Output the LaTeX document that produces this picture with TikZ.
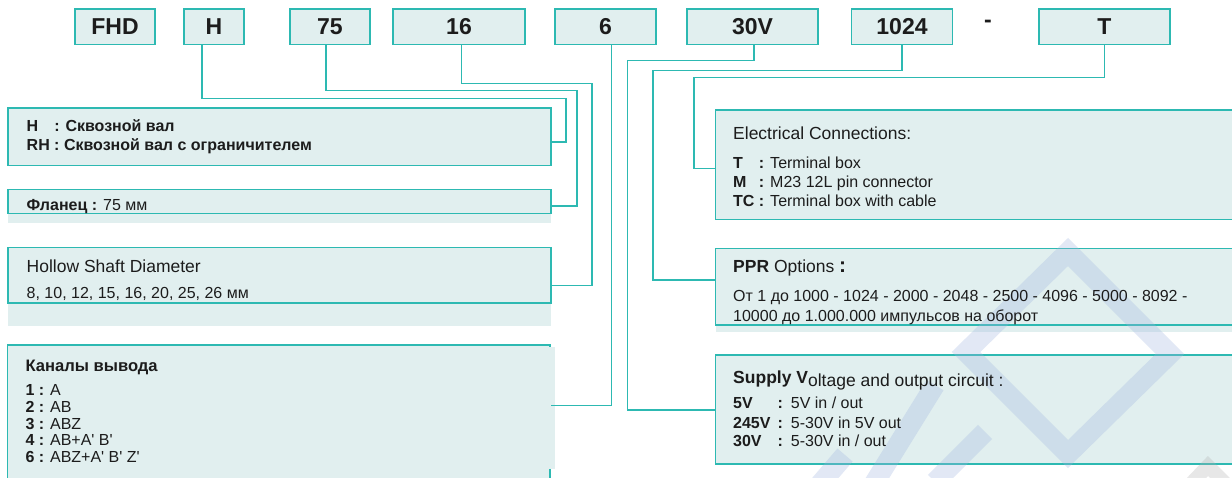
\documentclass[tikz,border=0pt]{standalone}
\usepackage{fontspec}
\setmainfont{Liberation Sans}
\usetikzlibrary{positioning}
\definecolor{tealline}{HTML}{2DB9B2}
\definecolor{boxfill}{HTML}{E1EFEF}
\definecolor{inkdark}{HTML}{1C1C1C}
\definecolor{markblue}{HTML}{9FB4E0}
\newcommand{\bodyfont}{\fontsize{16}{19}\selectfont}
\newcommand{\titlefont}{\fontsize{17.5}{20}\selectfont}
\newcommand{\padkey}[2]{\rlap{\textbf{#1}}\hphantom{\textbf{#2}}}
\newcommand{\qs}{\textquotesingle}

\begin{document}
\begin{tikzpicture}[x=1pt,y=-1pt,
    keybox/.style={draw=tealline,fill=boxfill,line width=1.4pt,inner sep=0pt,
                   minimum height=35.7pt,font=\fontsize{23}{27}\selectfont\bfseries,text=inkdark},
    infobox/.style={draw=tealline,fill=boxfill,line width=1.4pt,inner sep=0pt},
    wire/.style={draw=tealline,line width=1.4pt},
    wmark/.style={draw=markblue,line width=20pt,opacity=0.3},
    txt/.style={anchor=base west,inner sep=0pt,font=\bodyfont,text=inkdark},
    title/.style={txt,font=\titlefont}
  ]
  \clip (0,0) rectangle (1232,477);
  \fill[white] (0,0) rectangle (1232,477);

  \node[keybox,minimum width=80pt] (fhd) at (115,26.8) {FHD};
  \node[keybox,minimum width=60pt] (hkey) at (214,26.8) {H};
  \node[keybox,minimum width=80pt] (flkey) at (330,26.8) {75};
  \node[keybox,minimum width=132pt] (shkey) at (459,26.8) {16};
  \node[keybox,minimum width=101pt] (chkey) at (605.5,26.8) {6};
  \node[keybox,minimum width=131pt] (vkey) at (752.5,26.8) {30V};
  \node[keybox,minimum width=101.5pt] (pprkey) at (902,26.8) {1024};
  \node[font=\fontsize{23}{27}\selectfont\bfseries,text=inkdark,inner sep=0pt] (dash) at (988,24) {-};
  \node[keybox,minimum width=131pt] (conkey) at (1104.5,26.8) {T};

  \fill[boxfill] (8,189.3) rectangle (551,223.3);
  \fill[boxfill] (8,247.3) rectangle (551,325.7);
  \fill[boxfill] (715.7,248.3) rectangle (1240,331.7);

  \node[infobox,minimum width=543pt,minimum height=57.7pt] (hbox) at (279.5,136.85) {};
  \node[infobox,minimum width=543pt,minimum height=24pt] (flbox) at (279.5,201.3) {};
  \node[infobox,minimum width=543pt,minimum height=55.7pt] (shbox) at (279.5,275.15) {};
  \node[infobox,minimum width=542.5pt,minimum height=155pt] (chbox) at (278.75,422.5) {};
  \fill[boxfill] (9.5,346.5) rectangle (555,469);
  \node[infobox,minimum width=534.3pt,minimum height=109.3pt] (conbox) at (982.85,164.65) {};
  \node[infobox,minimum width=534.3pt,minimum height=76.7pt] (pprbox) at (982.85,286.65) {};
  \node[infobox,minimum width=534.3pt,minimum height=109pt] (supbox) at (982.85,409.5) {};

  \draw[wmark] (1068,252) -- (1170,354) -- (1068,454) -- (966,352) -- cycle;
  \draw[wmark] (935,385) -- (870,490);
  \draw[wmark] (985,432) -- (935,482);
  \draw[wmark] (845,455) -- (815,490);
  \draw[wmark,draw=gray!60,line width=14pt] (1185,490) -- (1208,466) -- (1232,490);

  \draw[wire] ([xshift=-12pt]hkey.south) |- (566,98.7) |- ([yshift=-5.2pt]hbox.east);
  \draw[wire] ([xshift=-4pt]flkey.south) |- (577,90.7) |- ([yshift=-4.7pt]flbox.east);
  \draw[wire] ([xshift=2.7pt]shkey.south) |- (592,83.3) |- ([yshift=-10.5pt]shbox.east);
  \draw[wire] ([xshift=6pt]chkey.south) |- ([yshift=16.8pt]chbox.east);
  \draw[wire] ([xshift=1.5pt]vkey.south) |- (627.4,60.3) |- ([yshift=-0.5pt]supbox.west);
  \draw[wire] (pprkey.south) |- (652.8,70.7) |- ([yshift=6.65pt]pprbox.west);
  \draw[wire] (conkey.south) |- (694,77.7) |- ([yshift=-4pt]conbox.west);

  \node[txt] (hrow1) at (26.5,131) {\textbf{\padkey{H}{RH} : Сквозной вал}};
  \node[txt] (hrow2) at (26.5,150) {\textbf{RH : Сквозной вал с ограничителем}};
  \node[txt] (flrow) at (26.5,210) {\textbf{Фланец :} 75 мм};
  \node[title] (shtitle) at (26.5,272.3) {Hollow Shaft Diameter};
  \node[txt] (shrow) at (26.5,298.3) {8, 10, 12, 15, 16, 20, 25, 26 мм};
  \node[txt] (chtitle) at (25.3,371.7) {\fontsize{16.6}{19}\selectfont\textbf{Каналы вывода}};
  \foreach \k/\v/\y [count=\i] in {1/A/395.7, 2/AB/412.7, 3/ABZ/429.3,
      4/AB+A\qs{} B\qs/445.3, 6/ABZ+A\qs{} B\qs{} Z\qs/462.7}
    \node[txt] (chrow\i) at (25.3,\y) {\textbf{\k\ :} \v};

  \node[title] (contitle) at (733,139.3) {Electrical Connections:};
  \node[txt] (conrow1) at (733,168) {\padkey{T}{TC} \textbf{:} Terminal box};
  \node[txt] (conrow2) at (733,187.3) {\padkey{M}{TC} \textbf{:} M23 12L pin connector};
  \node[txt] (conrow3) at (733,206.7) {\padkey{TC}{TC} \textbf{:} Terminal box with cable};
  \node[title] (pprtitle) at (733,272.7) {\textbf{PPR} Options \textbf{\fontsize{21}{21}\selectfont :}};
  \node[txt] (pprrow1) at (733,301.7) {От 1 до 1000 - 1024 - 2000 - 2048 - 2500 - 4096 - 5000 - 8092 -};
  \node[txt] (pprrow2) at (733,321) {10000 до 1.000.000 импульсов на оборот};
  \node[title] (suptitle) at (733,383.3) {\textbf{Supply V}\raisebox{-3pt}{oltage and output circuit :}};
  \node[txt] (suprow1) at (733,408.3) {\padkey{5V}{245V}\hspace{7pt}\textbf{:}\hspace{8pt}5V in / out};
  \node[txt] (suprow2) at (733,428.3) {\padkey{245V}{245V}\hspace{7pt}\textbf{:}\hspace{8pt}5-30V in 5V out};
  \node[txt] (suprow3) at (733,446.7) {\padkey{30V}{245V}\hspace{7pt}\textbf{:}\hspace{8pt}5-30V in / out};
\end{tikzpicture}
\end{document}
